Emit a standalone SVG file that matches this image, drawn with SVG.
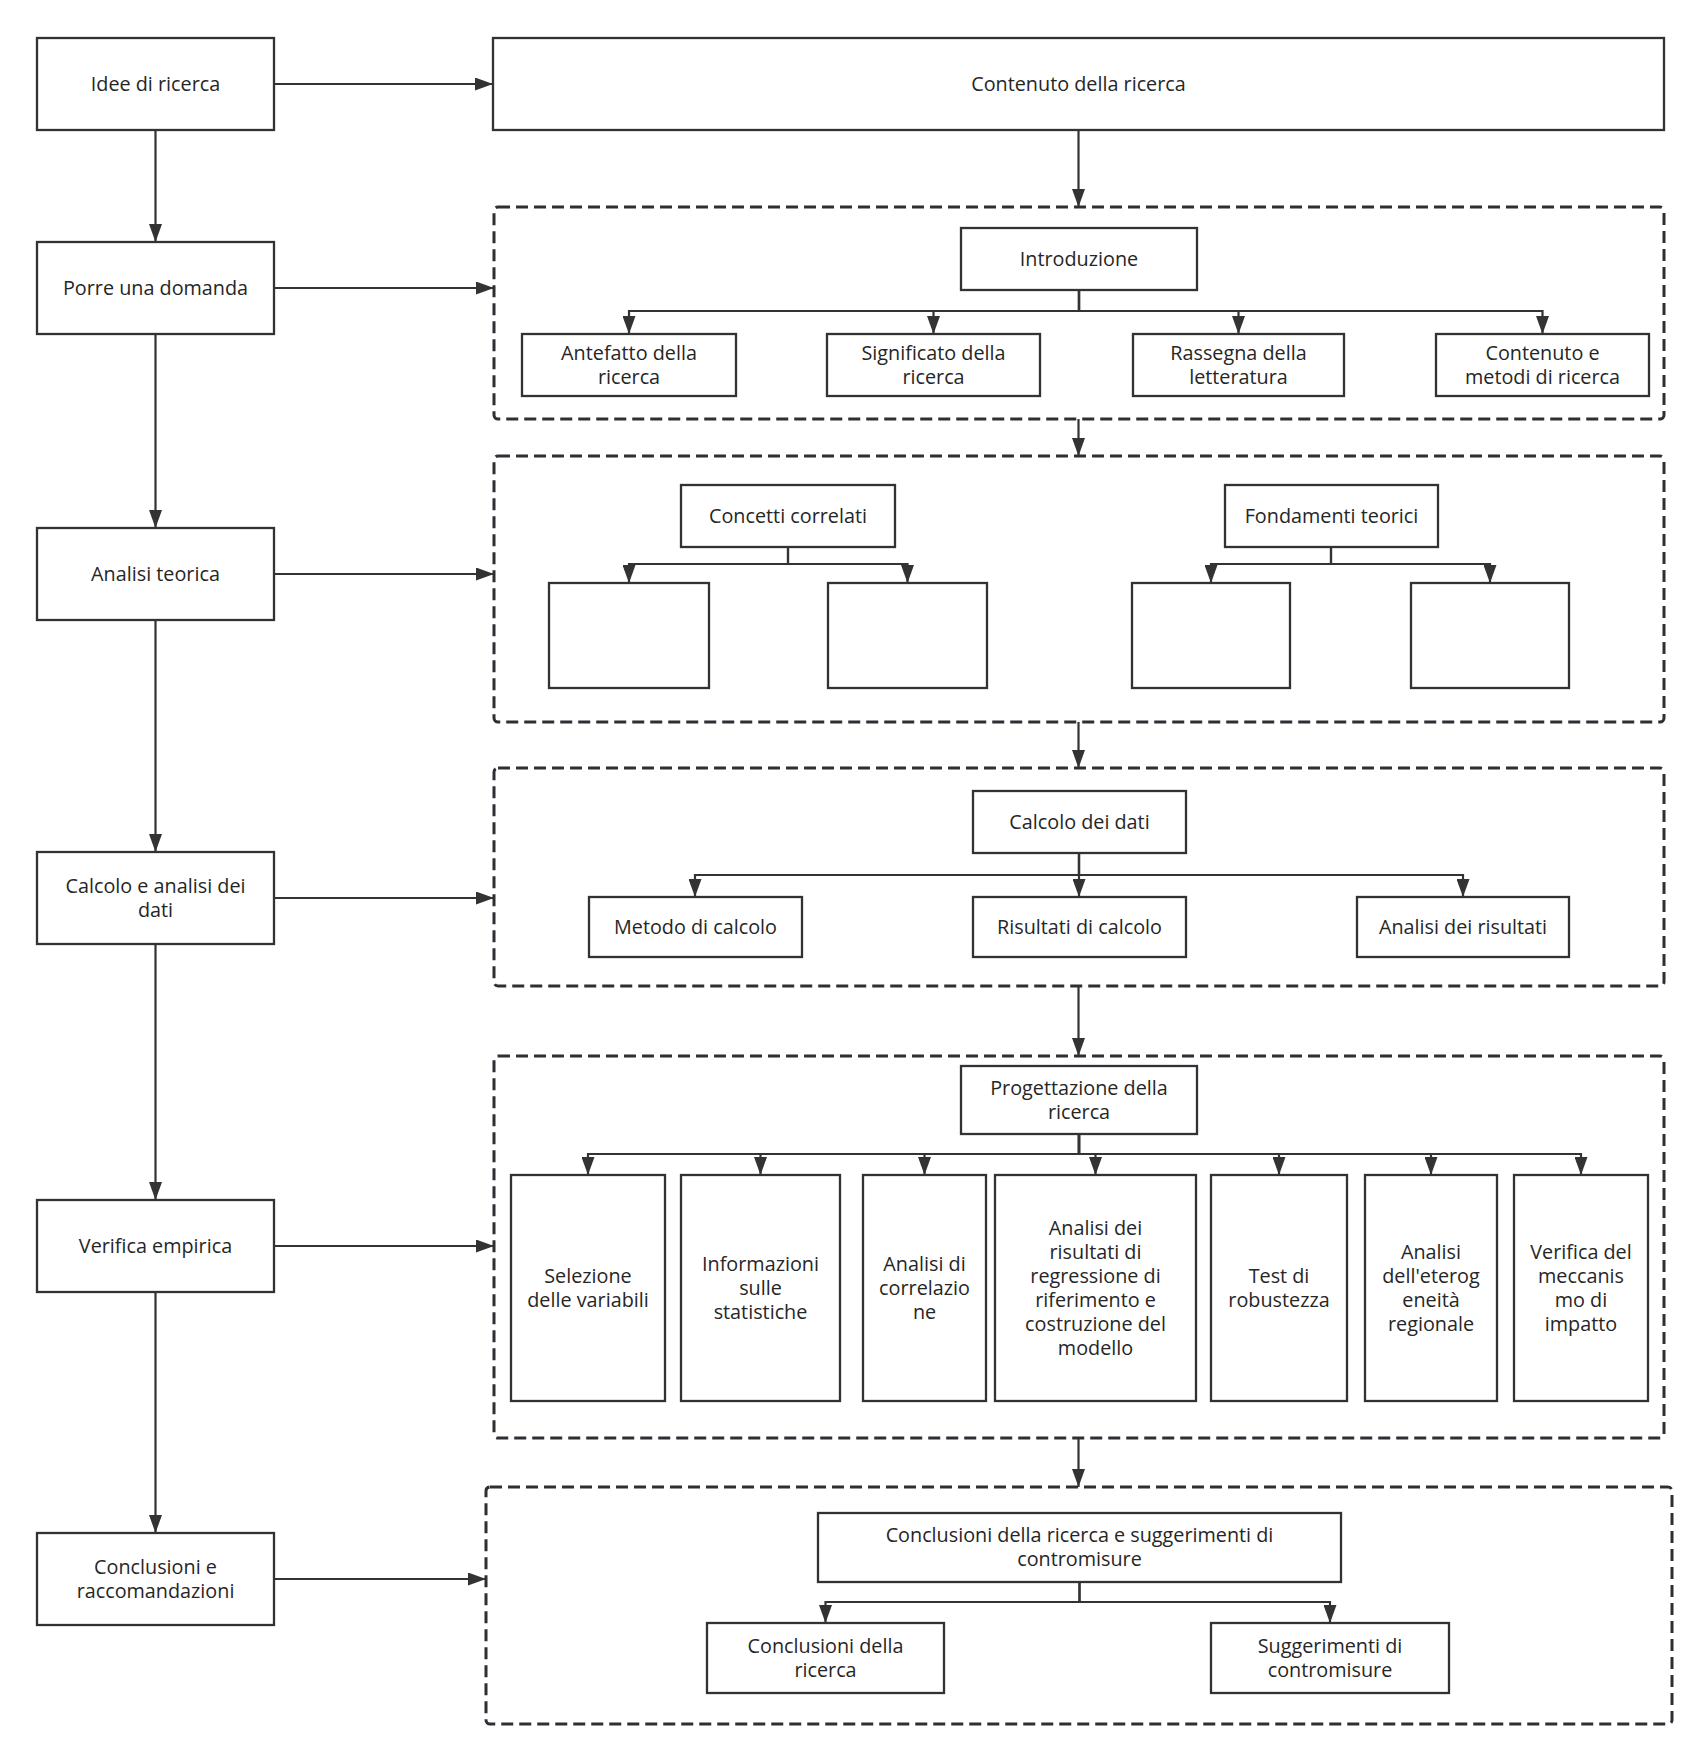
<svg xmlns="http://www.w3.org/2000/svg" width="1708" height="1762" viewBox="0 0 1708 1762">
<defs>
<style>
.box{fill:#fff;stroke:#303236;stroke-width:2.3}
.grp{fill:none;stroke:#2c2f34;stroke-width:3;stroke-dasharray:12 6}
.c{fill:none;stroke:#333;stroke-width:2.2;marker-end:url(#ah)}
text{font-family:"Open Sans","Noto Sans","Liberation Sans",sans-serif;font-size:19.8px;fill:#262626;text-anchor:middle}
</style>
<marker id="ah" markerWidth="19" markerHeight="13" refX="18" refY="6.5" orient="auto" markerUnits="userSpaceOnUse"><path d="M0,0 L18,6.5 L0,13 z" fill="#333"/></marker>
</defs>
<rect width="1708" height="1762" fill="#fff"/>

<g id="groups">
<rect id="g1" class="grp" x="494" y="207" width="1170" height="212" rx="4"/>
<rect id="g2" class="grp" x="494" y="456" width="1170" height="266" rx="4"/>
<rect id="g3" class="grp" x="494" y="768" width="1170" height="218" rx="4"/>
<rect id="g4" class="grp" x="494" y="1056" width="1170" height="382" rx="4"/>
<rect id="g5" class="grp" x="486" y="1487" width="1186" height="237" rx="4"/>
</g>

<g id="connectors">
<path class="c" d="M155.5,130 V242"/>
<path class="c" d="M155.5,334 V528"/>
<path class="c" d="M155.5,620 V852"/>
<path class="c" d="M155.5,944 V1200"/>
<path class="c" d="M155.5,1292 V1533"/>
<path class="c" d="M274,84 H493"/>
<path class="c" d="M274,288 H494"/>
<path class="c" d="M274,574 H494"/>
<path class="c" d="M274,898 H494"/>
<path class="c" d="M274,1246 H494"/>
<path class="c" d="M274,1579 H486"/>
<path class="c" d="M1078.5,130 V207"/>
<path class="c" d="M1078.5,419 V456"/>
<path class="c" d="M1078.5,722 V768"/>
<path class="c" d="M1078.5,986 V1056"/>
<path class="c" d="M1078.5,1438 V1487"/>
<path class="c" d="M1079,290 V311 H629 V334"/>
<path class="c" d="M1079,290 V311 H933.5 V334"/>
<path class="c" d="M1079,290 V311 H1238.5 V334"/>
<path class="c" d="M1079,290 V311 H1542.5 V334"/>
<path class="c" d="M788,547 V564 H629 V583"/>
<path class="c" d="M788,547 V564 H907.5 V583"/>
<path class="c" d="M1331,547 V564 H1211 V583"/>
<path class="c" d="M1331,547 V564 H1490 V583"/>
<path class="c" d="M1079,853 V875 H695 V897"/>
<path class="c" d="M1079,853 V897"/>
<path class="c" d="M1079,853 V875 H1463 V897"/>
<path class="c" d="M1079,1134 V1154 H588 V1175"/>
<path class="c" d="M1079,1134 V1154 H760.5 V1175"/>
<path class="c" d="M1079,1134 V1154 H924.5 V1175"/>
<path class="c" d="M1079,1134 V1154 H1095.5 V1175"/>
<path class="c" d="M1079,1134 V1154 H1279 V1175"/>
<path class="c" d="M1079,1134 V1154 H1431 V1175"/>
<path class="c" d="M1079,1134 V1154 H1581 V1175"/>
<path class="c" d="M1079.5,1582 V1602 H825.5 V1623"/>
<path class="c" d="M1079.5,1582 V1602 H1330 V1623"/>
</g>

<g id="n-idee"><rect class="box" x="37" y="38" width="237" height="92"/><text x="155.5" y="91">Idee di ricerca</text></g>
<g id="n-porre"><rect class="box" x="37" y="242" width="237" height="92"/><text x="155.5" y="295">Porre una domanda</text></g>
<g id="n-analisi"><rect class="box" x="37" y="528" width="237" height="92"/><text x="155.5" y="581">Analisi teorica</text></g>
<g id="n-calcolo"><rect class="box" x="37" y="852" width="237" height="92"/><text x="155.5" y="893"><tspan x="155.5">Calcolo e analisi dei</tspan><tspan x="155.5" dy="24">dati</tspan></text></g>
<g id="n-verifica"><rect class="box" x="37" y="1200" width="237" height="92"/><text x="155.5" y="1253">Verifica empirica</text></g>
<g id="n-concl"><rect class="box" x="37" y="1533" width="237" height="92"/><text x="155.5" y="1574"><tspan x="155.5">Conclusioni e</tspan><tspan x="155.5" dy="24">raccomandazioni</tspan></text></g>

<g id="n-contenuto"><rect class="box" x="493" y="38" width="1171" height="92"/><text x="1078.5" y="91">Contenuto della ricerca</text></g>

<g id="n-intro"><rect class="box" x="961" y="228" width="236" height="62"/><text x="1079" y="266">Introduzione</text></g>
<g id="n-antefatto"><rect class="box" x="522" y="334" width="214" height="62"/><text x="629" y="360"><tspan x="629">Antefatto della</tspan><tspan x="629" dy="24">ricerca</tspan></text></g>
<g id="n-signif"><rect class="box" x="827" y="334" width="213" height="62"/><text x="933.5" y="360"><tspan x="933.5">Significato della</tspan><tspan x="933.5" dy="24">ricerca</tspan></text></g>
<g id="n-rassegna"><rect class="box" x="1133" y="334" width="211" height="62"/><text x="1238.5" y="360"><tspan x="1238.5">Rassegna della</tspan><tspan x="1238.5" dy="24">letteratura</tspan></text></g>
<g id="n-metodi"><rect class="box" x="1436" y="334" width="213" height="62"/><text x="1542.5" y="360"><tspan x="1542.5">Contenuto e</tspan><tspan x="1542.5" dy="24">metodi di ricerca</tspan></text></g>

<g id="n-concetti"><rect class="box" x="681" y="485" width="214" height="62"/><text x="788" y="523">Concetti correlati</text></g>
<g id="n-fondamenti"><rect class="box" x="1225" y="485" width="213" height="62"/><text x="1331.5" y="523">Fondamenti teorici</text></g>
<g id="n-e1"><rect class="box" x="549" y="583" width="160" height="105"/></g>
<g id="n-e2"><rect class="box" x="828" y="583" width="159" height="105"/></g>
<g id="n-e3"><rect class="box" x="1132" y="583" width="158" height="105"/></g>
<g id="n-e4"><rect class="box" x="1411" y="583" width="158" height="105"/></g>

<g id="n-calcdati"><rect class="box" x="973" y="791" width="213" height="62"/><text x="1079.5" y="829">Calcolo dei dati</text></g>
<g id="n-metodo"><rect class="box" x="589" y="897" width="213" height="60"/><text x="695.5" y="934">Metodo di calcolo</text></g>
<g id="n-risultati"><rect class="box" x="973" y="897" width="213" height="60"/><text x="1079.5" y="934">Risultati di calcolo</text></g>
<g id="n-analrisult"><rect class="box" x="1357" y="897" width="212" height="60"/><text x="1463" y="934">Analisi dei risultati</text></g>

<g id="n-progett"><rect class="box" x="961" y="1066" width="236" height="68"/><text x="1079" y="1095"><tspan x="1079">Progettazione della</tspan><tspan x="1079" dy="24">ricerca</tspan></text></g>
<g id="n-selez"><rect class="box" x="511" y="1175" width="154" height="226"/><text x="588" y="1283"><tspan x="588">Selezione</tspan><tspan x="588" dy="24">delle variabili</tspan></text></g>
<g id="n-info"><rect class="box" x="681" y="1175" width="159" height="226"/><text x="760.5" y="1271"><tspan x="760.5">Informazioni</tspan><tspan x="760.5" dy="24">sulle</tspan><tspan x="760.5" dy="24">statistiche</tspan></text></g>
<g id="n-correl"><rect class="box" x="863" y="1175" width="123" height="226"/><text x="924.5" y="1271"><tspan x="924.5">Analisi di</tspan><tspan x="924.5" dy="24">correlazio</tspan><tspan x="924.5" dy="24">ne</tspan></text></g>
<g id="n-regress"><rect class="box" x="995" y="1175" width="201" height="226"/><text x="1095.5" y="1235"><tspan x="1095.5">Analisi dei</tspan><tspan x="1095.5" dy="24">risultati di</tspan><tspan x="1095.5" dy="24">regressione di</tspan><tspan x="1095.5" dy="24">riferimento e</tspan><tspan x="1095.5" dy="24">costruzione del</tspan><tspan x="1095.5" dy="24">modello</tspan></text></g>
<g id="n-test"><rect class="box" x="1211" y="1175" width="136" height="226"/><text x="1279" y="1283"><tspan x="1279">Test di</tspan><tspan x="1279" dy="24">robustezza</tspan></text></g>
<g id="n-eterog"><rect class="box" x="1365" y="1175" width="132" height="226"/><text x="1431" y="1259"><tspan x="1431">Analisi</tspan><tspan x="1431" dy="24">dell'eterog</tspan><tspan x="1431" dy="24">eneità</tspan><tspan x="1431" dy="24">regionale</tspan></text></g>
<g id="n-meccan"><rect class="box" x="1514" y="1175" width="134" height="226"/><text x="1581" y="1259"><tspan x="1581">Verifica del</tspan><tspan x="1581" dy="24">meccanis</tspan><tspan x="1581" dy="24">mo di</tspan><tspan x="1581" dy="24">impatto</tspan></text></g>

<g id="n-conclsug"><rect class="box" x="818" y="1513" width="523" height="69"/><text x="1079.5" y="1542"><tspan x="1079.5">Conclusioni della ricerca e suggerimenti di</tspan><tspan x="1079.5" dy="24">contromisure</tspan></text></g>
<g id="n-conclric"><rect class="box" x="707" y="1623" width="237" height="70"/><text x="825.5" y="1653"><tspan x="825.5">Conclusioni della</tspan><tspan x="825.5" dy="24">ricerca</tspan></text></g>
<g id="n-sugg"><rect class="box" x="1211" y="1623" width="238" height="70"/><text x="1330" y="1653"><tspan x="1330">Suggerimenti di</tspan><tspan x="1330" dy="24">contromisure</tspan></text></g>
</svg>
